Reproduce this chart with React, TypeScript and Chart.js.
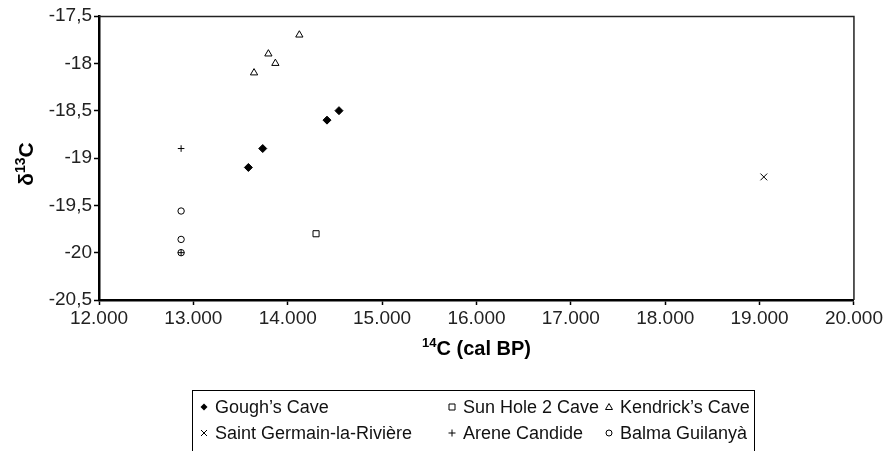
import React, { useEffect, useRef } from 'react';
import { Chart, registerables } from 'chart.js';

Chart.register(...registerables);

// ---- data ----
const goughX = [13583, 13735, 14416, 14543];
const goughY = [-19.1, -18.9, -18.6, -18.5];
const sunHoleX = [14300];
const sunHoleY = [-19.8];
const kendrickX = [13643, 13795, 13869, 14123];
const kendrickY = [-18.1, -17.9, -18.0, -17.7];
const saintGermainX = [19045];
const saintGermainY = [-19.2];
const areneX = [12870, 12870];
const areneY = [-18.9, -20.0];
const balmaX = [12870, 12870, 12870];
const balmaY = [-19.56, -19.86, -20.0];

const seriesLabels = [
  "Gough’s Cave",
  'Sun Hole 2 Cave',
  "Kendrick’s Cave",
  'Saint Germain-la-Rivière',
  'Arene Candide',
  'Balma Guilanyà',
];

const xMin = 12000;
const xMax = 20000;
const xStep = 1000;
const yMin = -20.5;
const yMax = -17.5;
const yStep = 0.5;

const xTitleSup = '14';
const xTitleMain = 'C (cal BP)';
const yTitlePre = 'δ';
const yTitleSup = '13';
const yTitleMain = 'C';

const FONT = "'Liberation Sans', Arial, Helvetica, sans-serif";

const pts = (xs: number[], ys: number[]) => xs.map((x, i) => ({ x, y: ys[i] }));
const fmtX = (v: number) => `${Math.floor(v / 1000)}.${String(Math.round(v % 1000)).padStart(3, '0')}`;
const fmtY = (v: number) => String(Math.round(v * 10) / 10).replace('.', ',');

function drawLegendMarker(ctx: CanvasRenderingContext2D, style: string, x: number, y: number) {
  ctx.save();
  ctx.strokeStyle = '#000';
  ctx.fillStyle = '#000';
  ctx.lineWidth = 1;
  ctx.beginPath();
  switch (style) {
    case 'rectRot':
      ctx.moveTo(x, y - 3.5);
      ctx.lineTo(x + 3.5, y);
      ctx.lineTo(x, y + 3.5);
      ctx.lineTo(x - 3.5, y);
      ctx.closePath();
      ctx.fill();
      break;
    case 'rect':
      ctx.rect(x - 3, y - 3, 6, 6);
      ctx.stroke();
      break;
    case 'triangle':
      ctx.moveTo(x, y - 3.5);
      ctx.lineTo(x + 3.5, y + 2.5);
      ctx.lineTo(x - 3.5, y + 2.5);
      ctx.closePath();
      ctx.stroke();
      break;
    case 'crossRot':
      ctx.moveTo(x - 3, y - 3);
      ctx.lineTo(x + 3, y + 3);
      ctx.moveTo(x + 3, y - 3);
      ctx.lineTo(x - 3, y + 3);
      ctx.stroke();
      break;
    case 'cross':
      ctx.moveTo(x - 3.5, y);
      ctx.lineTo(x + 3.5, y);
      ctx.moveTo(x, y - 3.5);
      ctx.lineTo(x, y + 3.5);
      ctx.stroke();
      break;
    case 'circle':
      ctx.arc(x, y, 3, 0, Math.PI * 2);
      ctx.stroke();
      break;
  }
  ctx.restore();
}

const decorPlugin = {
  id: 'decor',
  afterDraw(chart: any) {
    const ctx: CanvasRenderingContext2D = chart.ctx;
    const area = chart.chartArea;
    ctx.save();
    // top & right frame
    ctx.strokeStyle = '#222';
    ctx.lineWidth = 1.5;
    ctx.beginPath();
    ctx.moveTo(area.left, area.top + 0.5);
    ctx.lineTo(area.right, area.top + 0.5);
    ctx.lineTo(area.right, area.bottom);
    ctx.stroke();

    // x title
    ctx.fillStyle = '#000';
    ctx.textBaseline = 'alphabetic';
    ctx.textAlign = 'left';
    let mainFont = `bold 20px ${FONT}`;
    let supFont = `bold 13px ${FONT}`;
    ctx.font = supFont;
    const wSup = ctx.measureText(xTitleSup).width;
    ctx.font = mainFont;
    const wMain = ctx.measureText(xTitleMain).width;
    const cx = (area.left + area.right) / 2;
    const bx = area.bottom + 55;
    const sx = cx - (wSup + wMain) / 2;
    ctx.font = supFont;
    ctx.fillText(xTitleSup, sx, bx - 8);
    ctx.font = mainFont;
    ctx.fillText(xTitleMain, sx + wSup, bx);

    // y title
    mainFont = `bold 21px ${FONT}`;
    supFont = `bold 14px ${FONT}`;
    ctx.save();
    ctx.translate(33, (area.top + area.bottom) / 2 + 6);
    ctx.rotate(-Math.PI / 2);
    ctx.font = mainFont;
    const wPre = ctx.measureText(yTitlePre).width;
    const wC = ctx.measureText(yTitleMain).width;
    ctx.font = supFont;
    const wS = ctx.measureText(yTitleSup).width;
    const ty = -(wPre + wS + wC) / 2;
    ctx.font = mainFont;
    ctx.fillText(yTitlePre, ty, 0);
    ctx.font = supFont;
    ctx.fillText(yTitleSup, ty + wPre, -8);
    ctx.font = mainFont;
    ctx.fillText(yTitleMain, ty + wPre + wS, 0);
    ctx.restore();

    // legend
    const boxL = 192.5;
    const boxT = 390.5;
    const boxR = 754.5;
    ctx.strokeStyle = '#000';
    ctx.lineWidth = 1;
    ctx.strokeRect(boxL, boxT, boxR - boxL, 80);
    const colX = [204, 452, 609];
    const rowY = [407, 433];
    ctx.font = `18px ${FONT}`;
    ctx.fillStyle = '#111';
    ctx.textBaseline = 'middle';
    chart.data.datasets.forEach((ds: any, i: number) => {
      const c = i % 3;
      const r = Math.floor(i / 3);
      drawLegendMarker(ctx, ds.pointStyle, colX[c], rowY[r]);
      ctx.fillText(ds.label, colX[c] + 11, rowY[r] + 1);
    });
    ctx.restore();
  },
};

export default function App() {
  const ref = useRef<HTMLCanvasElement>(null);
  useEffect(() => {
    if (!ref.current) return;
    const base = {
      borderColor: '#000',
      borderWidth: 1,
      backgroundColor: 'rgba(0,0,0,0)',
      pointHoverRadius: 4,
    };
    const chart = new Chart(ref.current, {
      type: 'scatter',
      data: {
        datasets: [
          { ...base, label: seriesLabels[0], data: pts(goughX, goughY), pointStyle: 'rectRot', pointRadius: 4, backgroundColor: '#000' },
          { ...base, label: seriesLabels[1], data: pts(sunHoleX, sunHoleY), pointStyle: 'rect', pointRadius: 4.3 },
          { ...base, label: seriesLabels[2], data: pts(kendrickX, kendrickY), pointStyle: 'triangle', pointRadius: 4.2 },
          { ...base, label: seriesLabels[3], data: pts(saintGermainX, saintGermainY), pointStyle: 'crossRot', pointRadius: 4.8 },
          { ...base, label: seriesLabels[4], data: pts(areneX, areneY), pointStyle: 'cross', pointRadius: 3.3 },
          { ...base, label: seriesLabels[5], data: pts(balmaX, balmaY), pointStyle: 'circle', pointRadius: 3.2 },
        ] as any,
      },
      options: {
        animation: false,
        responsive: false,
        events: [],
        layout: { padding: { left: 0, right: 31, top: 16, bottom: 0 } },
        plugins: {
          legend: { display: false },
          tooltip: { enabled: false },
        },
        scales: {
          x: {
            type: 'linear',
            min: xMin,
            max: xMax,
            afterFit: (s: any) => { s.height = 151; },
            ticks: {
              stepSize: xStep,
              callback: (v: any) => fmtX(Number(v)),
              font: { family: FONT, size: 19 },
              color: '#222',
              padding: 2,
              maxRotation: 0,
            },
            grid: { drawOnChartArea: false, drawTicks: true, tickLength: 5, tickColor: '#000', tickWidth: 1.5 },
            border: { color: '#000', width: 2.5 },
          },
          y: {
            type: 'linear',
            min: yMin,
            max: yMax,
            afterFit: (s: any) => { s.width = 99; },
            ticks: {
              stepSize: yStep,
              callback: (v: any) => fmtY(Number(v)),
              font: { family: FONT, size: 19 },
              color: '#222',
              padding: 2,
            },
            grid: { drawOnChartArea: false, drawTicks: true, tickLength: 5, tickColor: '#000', tickWidth: 1.5 },
            border: { color: '#000', width: 2.5 },
          },
        },
      } as any,
      plugins: [decorPlugin],
    });
    return () => chart.destroy();
  }, []);
  return (
    <div style={{ position: 'absolute', left: 0, top: 0, width: 885, height: 451, background: '#fff' }}>
      <canvas ref={ref} width={885} height={451} style={{ display: 'block' }} />
    </div>
  );
}
